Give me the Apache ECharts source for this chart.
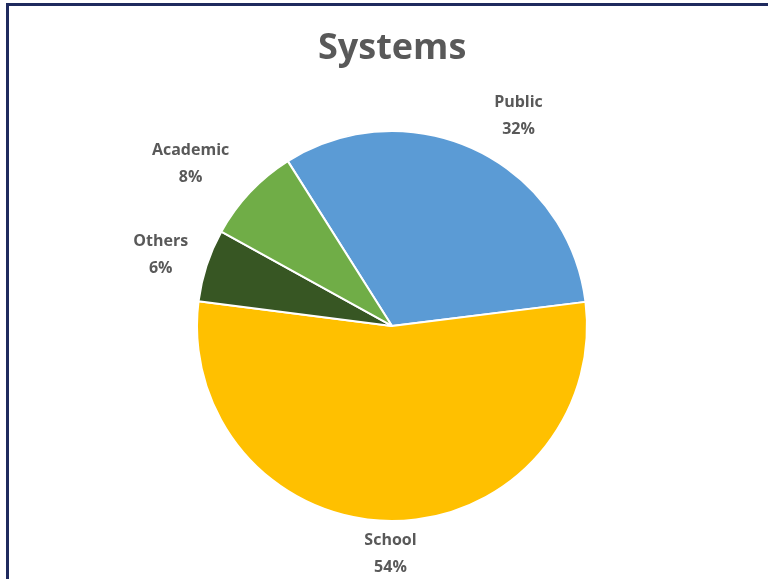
<!DOCTYPE html>
<html>
<head>
<meta charset="utf-8">
<script src="https://cdn.jsdelivr.net/npm/echarts@6/dist/echarts.min.js"></script>
<style>
html,body{margin:0;padding:0;background:#fff;}
#chart{width:768px;height:579px;}
</style>
</head>
<body>
<div id="chart"></div>
<script>
const categories = ['Public', 'School', 'Others', 'Academic'];
const values = [32, 54, 6, 8];
const colors = ['#5B9BD5', '#FFC000', '#375623', '#70AD47'];
const titleText = 'Systems';

const chart = echarts.init(document.getElementById('chart'), null, {renderer: 'canvas'});
const data = categories.map((c, i) => ({name: c, value: values[i], itemStyle: {color: colors[i]}}));

// small nudges of the outside labels (dx, dy), in data order
const labelNudge = [[1, -7], [30, 3], [15, -1], [6, -8]];

chart.setOption({
  backgroundColor: '#ffffff',
  animation: false,
  title: {
    text: titleText,
    left: 313,
    top: 26,
    textStyle: {fontFamily: 'Open Sans', fontWeight: 'bold', fontSize: 36, color: '#595959'}
  },
  graphic: [
    {type: 'rect', shape: {x: 6, y: 3, width: 3, height: 576}, style: {fill: '#1F2A5E'}},
    {type: 'rect', shape: {x: 6, y: 3, width: 762, height: 3}, style: {fill: '#1F2A5E'}}
  ],
  series: [{
    type: 'pie',
    center: ['51.04%', '56.3%'],
    radius: 195,
    startAngle: 122.3,
    clockwise: true,
    data: data,
    itemStyle: {borderColor: '#ffffff', borderWidth: 2},
    label: {
      show: true,
      position: 'outside',
      formatter: '{b}\n{d}%',
      fontFamily: 'Open Sans',
      fontWeight: 'bold',
      fontSize: 16,
      lineHeight: 27,
      color: '#595959'
    },
    labelLine: {show: false, length: 30, length2: 0},
    labelLayout: function (p) {
      const r = p.labelRect;
      const n = labelNudge[p.dataIndex] || [0, 0];
      return {x: r.x + r.width / 2 + n[0], y: r.y + r.height / 2 + n[1], align: 'center', verticalAlign: 'middle'};
    },
    emphasis: {disabled: true}
  }]
});
</script>
</body>
</html>
